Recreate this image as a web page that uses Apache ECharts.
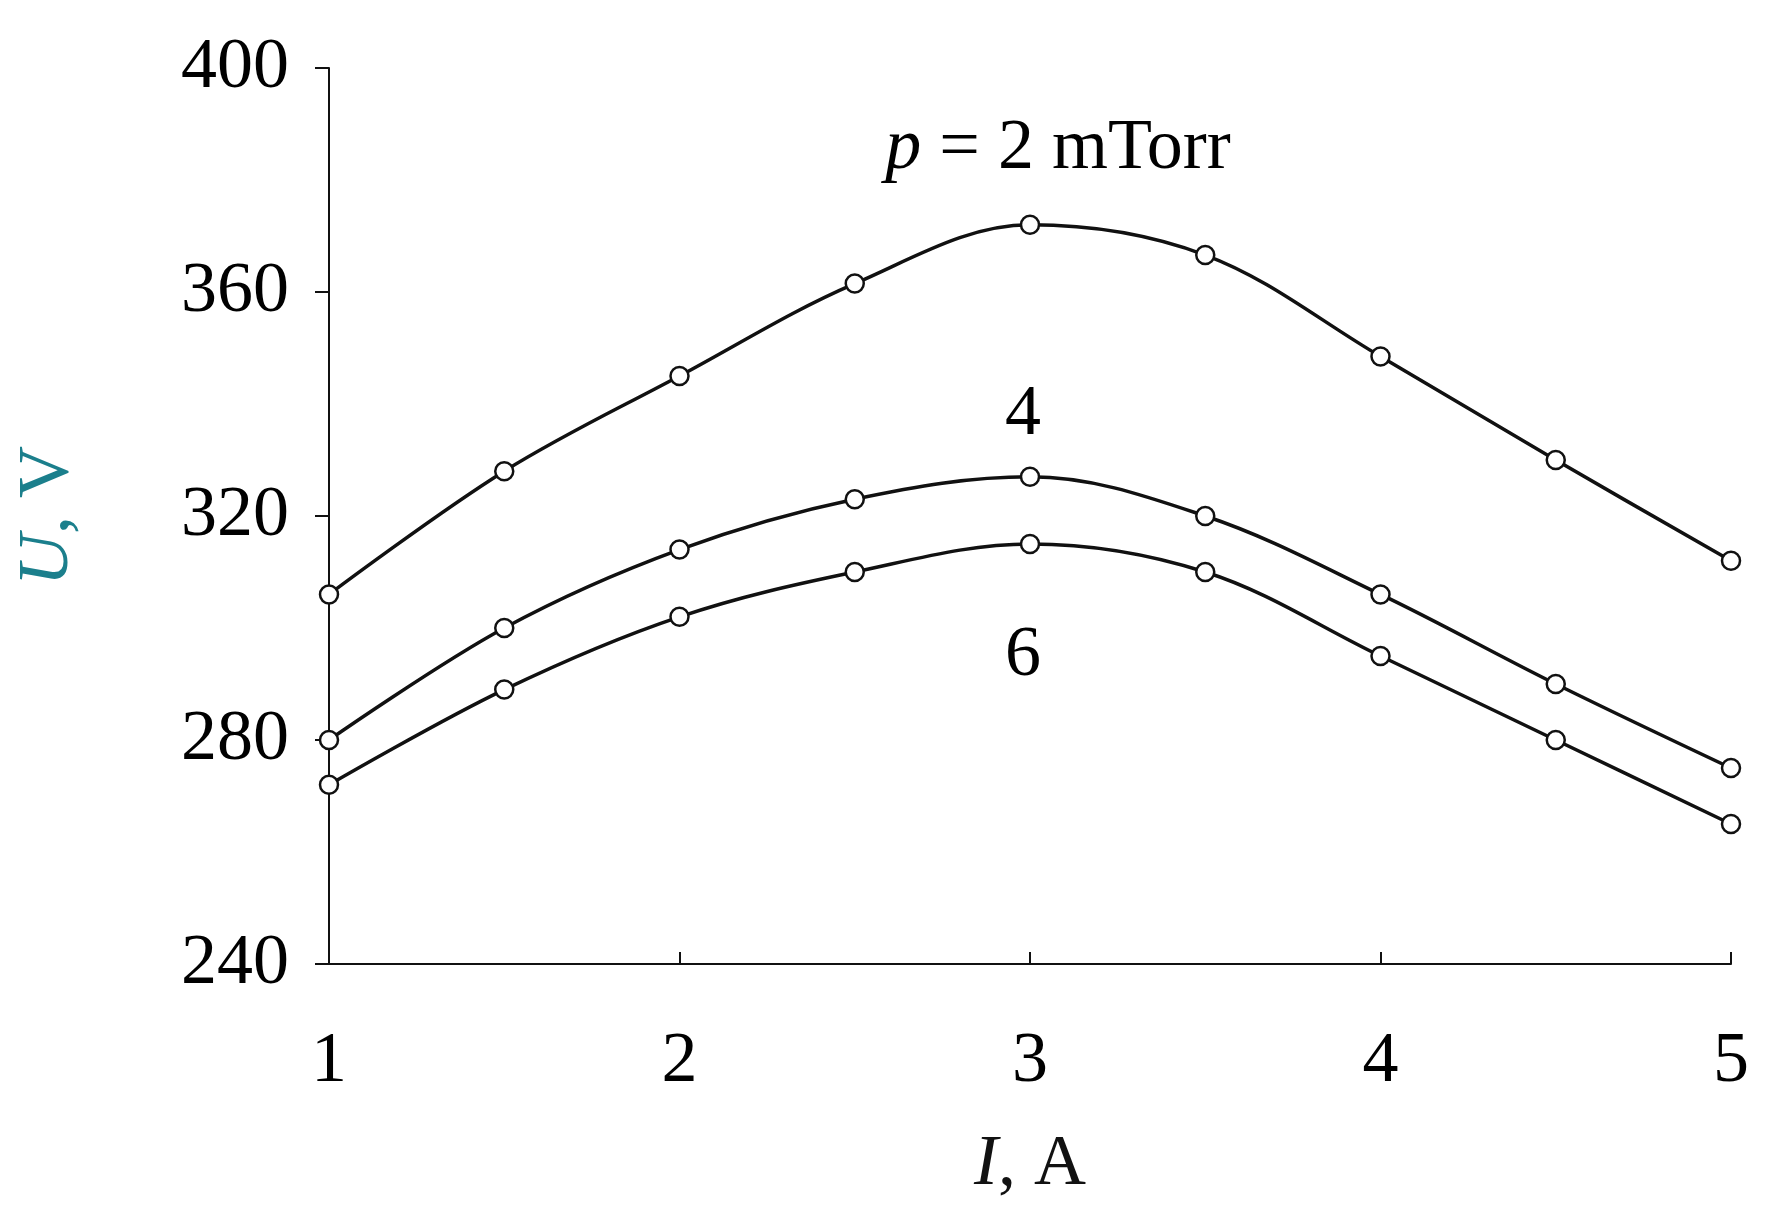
<!DOCTYPE html>
<html><head><meta charset="utf-8">
<script src="https://cdn.jsdelivr.net/npm/echarts@6/dist/echarts.min.js"></script>
<style>html,body{margin:0;padding:0;background:#fff}#c{width:1771px;height:1219px}</style>
</head><body><div id="c"></div>
<script>
const xCurrent = [1, 1.5, 2, 2.5, 3, 3.5, 4, 4.5, 5];
const u2 = [306, 328, 345, 361.5, 372, 366.6, 348.5, 330, 312];
const u4 = [280, 300, 314, 323, 327, 320, 306, 290, 275];
const u6 = [272, 289, 302, 310, 315, 310, 295, 280, 265];
const annotations = [
  {x: 3.08, y: 385.5, text: '{i|p} = 2 mTorr'},
  {x: 2.98, y: 338, text: '4'},
  {x: 2.98, y: 295, text: '6'}
];
const font = "'Liberation Serif', 'Times New Roman', serif";
const fs = 72;
function mk(arr){return {type:'line', data: xCurrent.map((x,i)=>[x,arr[i]]), smooth:0.35,
  symbol:'circle', symbolSize:18, itemStyle:{color:'#fff', borderColor:'#111', borderWidth:2.5},
  lineStyle:{color:'#111', width:3.5}, z:3};}
const chart = echarts.init(document.getElementById('c'));
chart.setOption({
  backgroundColor:'#fff', animation:false,
  grid:{left:329, right:40, top:68, bottom:255},
  xAxis:{type:'value', min:1, max:5, interval:1,
    name:'{i|I}, A', nameLocation:'middle', nameGap:165,
    nameTextStyle:{fontFamily:font, fontSize:fs, color:'#111', rich:{i:{fontStyle:'italic', fontFamily:font, fontSize:fs, color:'#111'}}},
    axisLine:{lineStyle:{color:'#111', width:2}},
    axisTick:{inside:true, length:12, lineStyle:{color:'#111', width:2}},
    axisLabel:{fontFamily:font, fontSize:fs, color:'#000', margin:62},
    splitLine:{show:false}},
  yAxis:{type:'value', min:240, max:400, interval:40,
    name:'{i|U}, V', nameLocation:'middle', nameGap:245, nameRotate:90,
    nameTextStyle:{fontFamily:font, fontSize:fs, color:'#1b7f8c', rich:{i:{fontStyle:'italic', fontFamily:font, fontSize:fs, color:'#1b7f8c'}}},
    axisLine:{lineStyle:{color:'#111', width:2}},
    axisTick:{length:14, lineStyle:{color:'#111', width:2}},
    axisLabel:{fontFamily:font, fontSize:fs, color:'#000', margin:40},
    splitLine:{show:false}},
  series:[mk(u2), mk(u4), mk(u6),
    {type:'scatter', symbolSize:0, silent:true, itemStyle:{color:'#000', opacity:1},
     data: annotations.map(a=>({value:[a.x,a.y], label:{formatter:a.text}})),
     label:{show:true, position:'inside', fontFamily:font, fontSize:fs, color:'#000', opacity:1,
       rich:{i:{fontStyle:'italic', fontFamily:font, fontSize:fs, color:'#000'}}}, z:5}]
});
</script></body></html>
